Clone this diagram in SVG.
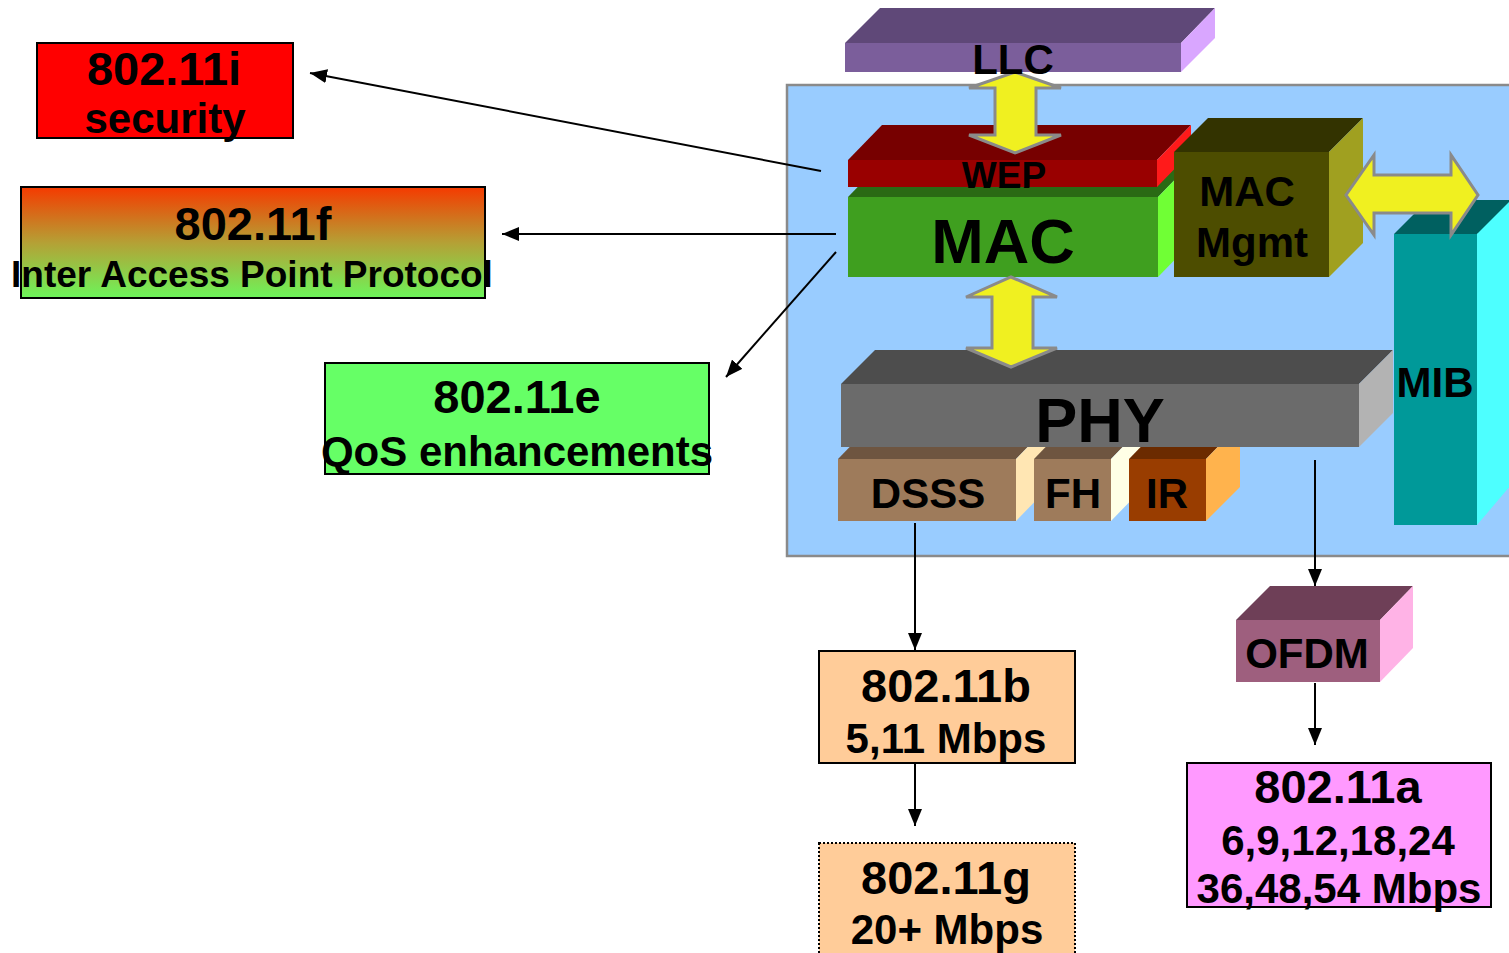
<svg xmlns="http://www.w3.org/2000/svg" width="1509" height="953" viewBox="0 0 1509 953">
<style>
text{font-family:"Liberation Sans",Arial,sans-serif;font-weight:bold;fill:#000;text-anchor:middle}
.box{stroke:#000;stroke-width:2}
.conn{stroke:#000;stroke-width:2;fill:none;marker-end:url(#ah)}
.yarrow{fill:#F0F020;stroke:#8a8a8a;stroke-width:3;stroke-linejoin:miter}
.t47{font-size:47px}.t42{font-size:42px}.t38{font-size:37px}.t62{font-size:63px}
</style>
<defs>
<marker id="ah" markerUnits="userSpaceOnUse" markerWidth="18" markerHeight="14" refX="17" refY="7" orient="auto">
<path d="M0,0 L17,7 L0,14 Z" fill="#000"/>
</marker>
<linearGradient id="gf" x1="0" y1="0" x2="0" y2="1">
<stop offset="0" stop-color="#F53A00"/>
<stop offset="0.5" stop-color="#B5A035"/>
<stop offset="1" stop-color="#6CF55A"/>
</linearGradient>
</defs>

<g id="container">
<rect x="787" y="85" width="740" height="471" fill="#99CCFF" stroke="#8a8a8a" stroke-width="2.5"/>
</g>

<g id="llc">
<polygon points="845,43 880,8 1215,8 1181,43" fill="#5F4878"/>
<polygon points="1181,43 1215,8 1215,38 1181,72" fill="#D9A6FF"/>
<rect x="845" y="43" width="336" height="29" fill="#7B5E9B"/>
</g>

<g id="mac">
<polygon points="848,197 882,162 1192,162 1158,197" fill="#2A6A14"/>
<polygon points="1158,197 1192,162 1192,242 1158,277" fill="#70FF35"/>
<rect x="848" y="197" width="310" height="80" fill="#3F9F1F"/>
<text class="t62" x="1003" y="263">MAC</text>
</g>

<g id="wep">
<polygon points="848,160 882,125 1191,125 1157,160" fill="#770000"/>
<polygon points="1157,160 1191,125 1191,152 1157,187" fill="#FF1A1A"/>
<rect x="848" y="160" width="309" height="27" fill="#990000"/>
<text class="t38" x="1004" y="188">WEP</text>
</g>

<g id="macmgmt">
<polygon points="1174,152 1208,118 1363,118 1329,152" fill="#333300"/>
<polygon points="1329,152 1363,118 1363,243 1329,277" fill="#A0A020"/>
<rect x="1174" y="152" width="155" height="125" fill="#4D4D00"/>
<text class="t42" x="1247" y="206">MAC</text>
<text class="t42" x="1252" y="257">Mgmt</text>
</g>

<g id="mib">
<polygon points="1394,234 1428,200 1540,200 1477,234" fill="#006060"/>
<polygon points="1477,234 1511,200 1511,485 1477,525" fill="#4DFFFF"/>
<rect x="1394" y="234" width="83" height="291" fill="#009999"/>
<text class="t42" x="1435" y="397">MIB</text>
</g>

<g id="dsss">
<polygon points="838,459 872,424 1050,424 1016,459" fill="#6E5540"/>
<polygon points="1016,459 1050,424 1050,486 1016,521" fill="#FFE6B3"/>
<rect x="838" y="459" width="178" height="62" fill="#9E7B5B"/>
<text class="t42" x="928" y="508">DSSS</text>
</g>

<g id="fh">
<polygon points="1034,459 1068,424 1145,424 1111,459" fill="#6E5540"/>
<polygon points="1111,459 1145,424 1145,486 1111,521" fill="#FFFFE6"/>
<rect x="1034" y="459" width="77" height="62" fill="#9E7B5B"/>
<text class="t42" x="1073" y="508">FH</text>
</g>

<g id="ir">
<polygon points="1129,459 1163,424 1240,424 1206,459" fill="#6B2B00"/>
<polygon points="1206,459 1240,424 1240,487 1206,521" fill="#FFB34D"/>
<rect x="1129" y="459" width="77" height="62" fill="#993D00"/>
<text class="t42" x="1167" y="508">IR</text>
</g>

<g id="phy">
<polygon points="841,384 875,350 1393,350 1359,384" fill="#4D4D4D"/>
<polygon points="1359,384 1393,350 1393,413 1359,447" fill="#B3B3B3"/>
<rect x="841" y="384" width="518" height="63" fill="#6B6B6B"/>
<text class="t62" x="1100" y="442">PHY</text>
</g>

<g id="yellow-arrows">
<polygon class="yarrow" points="1015,72 1061,88 1036,88 1036,135 1061,135 1015,153 969,135 995,135 995,88 969,88"/>
<polygon class="yarrow" points="1011,277 1057,297 1033,297 1033,348 1057,348 1011,367 966,348 992,348 992,297 966,297"/>
<polygon class="yarrow" points="1346,195 1374,155 1374,175 1451,175 1451,155 1478,195 1451,235 1451,213 1374,213 1374,235"/>
</g>

<g id="llc-label">
<text class="t42" x="1013" y="74">LLC</text>
</g>

<g id="n80211i">
<rect class="box" x="37" y="43" width="256" height="95" fill="#FF0000"/>
<text class="t47" x="164" y="85">802.11i</text>
<text class="t42" x="165" y="133">security</text>
</g>

<g id="n80211f">
<rect class="box" x="21" y="187" width="464" height="111" fill="url(#gf)"/>
<text class="t47" x="253" y="240">802.11f</text>
<text x="252" y="287" style="font-size:37px">Inter Access Point Protocol</text>
</g>

<g id="n80211e">
<rect class="box" x="325" y="363" width="384" height="111" fill="#66FF66"/>
<text class="t47" x="517" y="413">802.11e</text>
<text x="517" y="466" style="font-size:42px">QoS enhancements</text>
</g>

<g id="n80211b">
<rect class="box" x="819" y="651" width="256" height="112" fill="#FFCC99"/>
<text class="t47" x="946" y="702">802.11b</text>
<text class="t42" x="946" y="753">5,11 Mbps</text>
</g>

<g id="n80211g">
<rect x="819" y="843" width="256" height="125" fill="#FFCC99" stroke="#000" stroke-width="2" stroke-dasharray="2,2"/>
<text class="t47" x="946" y="894">802.11g</text>
<text class="t42" x="947" y="944">20+ Mbps</text>
</g>

<g id="ofdm">
<polygon points="1236,620 1270,586 1413,586 1380,620" fill="#6E3F57"/>
<polygon points="1380,620 1413,586 1413,648 1380,682" fill="#FFB3E6"/>
<rect x="1236" y="620" width="144" height="62" fill="#9E5F7E"/>
<text class="t42" x="1307" y="668">OFDM</text>
</g>

<g id="n80211a">
<rect class="box" x="1187" y="763" width="304" height="144" fill="#FF99FF"/>
<text class="t47" x="1338" y="803">802.11a</text>
<text class="t42" x="1338" y="855">6,9,12,18,24</text>
<text class="t42" x="1339" y="903">36,48,54 Mbps</text>
</g>

<g id="connectors">
<line class="conn" x1="821" y1="171" x2="310" y2="73"/>
<line class="conn" x1="836" y1="234" x2="502" y2="234"/>
<line class="conn" x1="836" y1="252" x2="726" y2="377"/>
<line class="conn" x1="915" y1="523" x2="915" y2="650"/>
<line class="conn" x1="1315" y1="460" x2="1315" y2="586"/>
<line class="conn" x1="1315" y1="683" x2="1315" y2="745"/>
<line class="conn" x1="915" y1="763" x2="915" y2="826"/>
</g>
</svg>
